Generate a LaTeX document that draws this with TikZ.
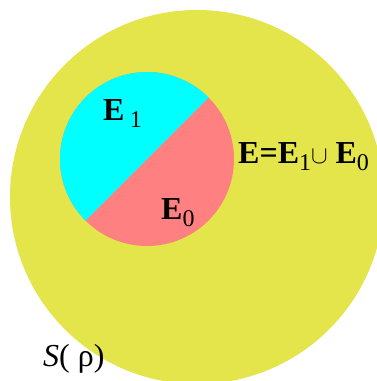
\documentclass[tikz,border=0pt]{standalone}
\usepackage{fontspec}
\setmainfont{Liberation Serif}
\usetikzlibrary{positioning}
\definecolor{outeryellow}{RGB}{227,229,75}
\definecolor{setcyan}{RGB}{0,255,255}
\definecolor{setpink}{RGB}{255,128,128}
\newcommand{\lowidx}[1]{\raisebox{-0.22em}{\fontsize{24bp}{26bp}\selectfont\mdseries #1}}

\begin{document}
\begin{tikzpicture}[x=1bp, y=-1bp,
    lbl/.style={inner sep=0pt, anchor=base west, font=\fontsize{32bp}{36bp}\selectfont}]
    \useasboundingbox (0,0) rectangle (377,381);
    \clip (0,0) rectangle (377,381);
    % Outer region S(rho)
    \fill[outeryellow] (197,197) circle (187);
    % Inner set E, split along the diagonal
    \coordinate (c) at (147,159);
    \fill[setpink] (c) circle (87);
    \fill[setcyan] (c) ++(-45:87) arc[start angle=-45, end angle=-225, radius=87] -- cycle;
    % Labels
    \node[lbl] (eone) at (103,120) {\textbf{E}\,\lowidx{1}};
    \node[lbl] (ezero) at (161,219) {\textbf{E}\lowidx{0}};
    \node[lbl] (union) at (238,163) {\textbf{E=E}\lowidx{1}$\cup$\ \textbf{E}\lowidx{0}};
    \node[lbl] (srho) at (43,366) {\textit{S}( ρ)};
\end{tikzpicture}
\end{document}
